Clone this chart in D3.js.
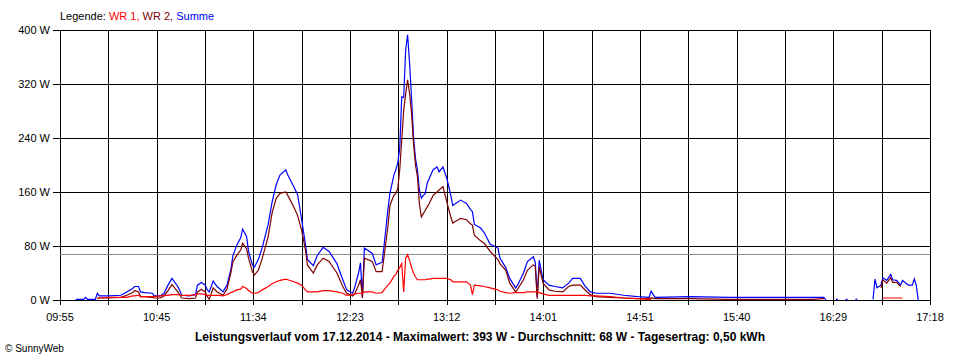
<!DOCTYPE html>
<html><head><meta charset="utf-8">
<script src="https://cdn.jsdelivr.net/npm/d3@7"></script>
<style>
html,body{margin:0;padding:0;background:#fff;}
svg{display:block;font-family:"Liberation Sans",Arial,sans-serif;}
</style></head>
<body><svg id="c" width="960" height="360"></svg>
<script>
const n = null;
const times = ["10:03","10:07","10:08","10:09","10:13","10:14","10:15","10:20","10:26","10:29","10:32","10:33","10:35","10:36","10:38","10:42","10:43","10:46","10:48","10:50",
"10:52","10:55","10:57","11:01","11:04","11:05","11:07","11:09","11:10","11:11","11:13","11:15","11:18","11:20","11:22","11:23","11:25","11:27","11:28","11:30",
"11:31","11:33","11:34","11:36","11:38","11:41","11:43","11:45","11:47","11:50","11:51","11:54","11:56","11:58","12:00","12:01","12:04","12:06","12:09","12:12",
"12:16","12:19","12:21","12:24","12:25","12:27","12:28","12:29","12:30","12:34","12:36","12:39","12:40","12:42","12:43","12:45","12:46","12:47","12:48","12:49",
"12:50","12:51","12:52","12:53","12:54","12:55","12:56","12:57","12:58","12:59","13:00","13:01","13:02","13:03","13:05","13:07","13:08","13:10","13:12","13:14",
"13:15","13:19","13:22","13:24","13:25","13:26","13:29","13:31","13:34","13:38","13:39","13:42","13:44","13:47","13:48","13:51","13:53","13:56","13:57","13:58",
"13:59","14:01","14:04","14:07","14:11","14:14","14:16","14:20","14:22","14:25","14:28","14:35","14:42","14:49","14:55","14:56","14:58","15:16","15:36","16:02",
"16:18","16:24","16:25","16:26","16:30","16:31","16:32","16:35","16:36","16:37","16:40","16:41","16:42","16:49","16:50","16:51","16:53","16:54","16:56","16:58",
"16:59","17:01","17:03","17:04","17:07","17:09","17:10","17:11","17:12"];
const wr1 = [n,n,n,n,n,2,3,4,4,4,6,6,7,5,5,5,5,6,7,7,
8,8,7,7,8,9,9,8,7,7,7,7,6,8,11,12,15,16,20,17,
14,10,10,11,15,20,24,27,29,31,30,27,25,22,15,12,12,12,14,14,
12,10,7,8,9,10,10,10,12,12,10,11,15,22,25,35,38,44,48,54,
12,62,67,59,48,40,34,30,30,30,30,30,31,31,32,32,32,32,32,30,
27,27,27,22,8,22,21,20,18,15,13,11,10,11,11,11,12,12,12,12,
11,9,7,7,7,7,7,7,7,6,6,5,3,2,1,1,n,n,n,n,
n,n,n,n,n,n,n,n,n,n,n,n,n,n,n,n,n,3,3,3,
3,3,3,3,n,n,n,n,n];
const wr2 = [n,n,n,n,n,3,3,3,4,7,11,14,12,5,5,4,3,3,6,14,
23,12,3,2,3,12,16,12,5,1,18,12,7,16,40,56,66,74,84,76,
62,42,37,44,62,94,129,150,158,160,155,138,125,104,74,52,40,52,62,57,
40,20,10,6,9,22,30,3,62,57,42,42,64,110,140,155,158,165,193,237,
281,305,326,306,277,232,200,183,143,123,128,133,138,143,155,160,163,168,145,123,
114,121,119,113,111,96,88,84,72,60,54,44,25,12,16,30,44,52,50,2,
49,25,15,13,12,20,22,22,16,8,5,4,3,2,2,3,2,2,1,1,
1,2,n,n,n,n,n,n,n,n,n,n,n,n,n,n,18,30,25,33,
26,26,20,n,n,n,n,n,n];
const summe = [1,1,4,1,1,10,6,6,7,12,17,20,20,12,11,10,6,6,10,22,
32,20,7,6,8,22,26,22,15,12,28,20,12,22,45,65,81,92,105,94,
72,52,49,60,78,112,145,170,185,193,185,168,156,120,82,60,51,66,78,72,
54,30,15,10,18,40,55,5,77,69,52,56,80,135,158,185,193,203,225,301,
300,370,393,351,300,242,210,193,163,151,155,158,173,180,193,197,190,197,180,155,
140,148,143,134,131,112,107,100,83,77,62,48,32,18,22,40,57,64,56,5,
59,30,22,20,18,25,32,32,22,12,10,10,7,5,4,13,4,5,4,4,
4,4,0,n,1,1,n,1,1,n,1,1,n,1,31,18,22,33,29,38,
30,29,22,29,22,22,31,22,0];
const yTicks = [0,80,160,240,320,400];
const xTickLabels = ["09:55","10:45","11:34","12:23","13:12","14:01","14:51","15:40","16:29","17:18"];
const average = 68;
const title = "Leistungsverlauf vom 17.12.2014 - Maximalwert: 393 W - Durchschnitt: 68 W - Tagesertrag: 0,50 kWh";

const toMin = s => { const [h,m] = s.split(":").map(Number); return h*60+m; };
const L = 60, R = 930, T = 30, B = 300;
const tStart = toMin(xTickLabels[0]), tEnd = toMin(xTickLabels[xTickLabels.length-1]);
const x = d3.scaleLinear().domain([tStart, tEnd]).range([L, R]);
const y = d3.scaleLinear().domain([0, 400]).range([B, T]);
const svg = d3.select("#c");

const nDiv = (xTickLabels.length - 1) * 2;
const gridPos = d3.range(nDiv + 1).map(i => tStart + i * (tEnd - tStart) / nDiv);
const g = svg.append("g").attr("shape-rendering","crispEdges");
g.selectAll("line.v").data(gridPos).join("line")
  .attr("x1", d => Math.round(x(d)) + 0.5).attr("x2", d => Math.round(x(d)) + 0.5)
  .attr("y1", T).attr("y2", B + 5).attr("stroke","#000");
g.selectAll("line.h").data(yTicks).join("line")
  .attr("x1", L - 7).attr("x2", R + 0.5)
  .attr("y1", d => Math.round(y(d)) + 0.5).attr("y2", d => Math.round(y(d)) + 0.5).attr("stroke","#000");
g.append("line").attr("x1", L).attr("x2", R)
  .attr("y1", Math.round(y(average)) + 0.5).attr("y2", Math.round(y(average)) + 0.5)
  .attr("stroke","#8c8c8c");

svg.selectAll("text.yl").data(yTicks).join("text")
  .attr("x", 50).attr("y", d => y(d) + 4).attr("text-anchor","end")
  .attr("font-size", 11).text(d => d + " W");
svg.selectAll("text.xl").data(xTickLabels).join("text")
  .attr("x", (d,i) => x(gridPos[i*2])).attr("y", 321).attr("text-anchor","middle")
  .attr("font-size", 11).text(d => d);

const pts = vals => times.map((t,i) => ({t: toMin(t), v: vals[i]}));
const line = d3.line().defined(d => d.v !== null).x(d => x(d.t)).y(d => y(d.v));
[[summe,"#0000ff"],[wr2,"#800000"],[wr1,"#ff0000"]].forEach(([vals,col]) => {
  svg.append("path").datum(pts(vals)).attr("d", line)
    .attr("fill","none").attr("stroke", col).attr("stroke-width", 1.2).attr("stroke-linejoin","miter");
});

const leg = svg.append("text").attr("x", 60).attr("y", 20).attr("font-size", 11);
leg.append("tspan").attr("fill","#000").text("Legende: ");
leg.append("tspan").attr("fill","#ff0000").text("WR 1, ");
leg.append("tspan").attr("fill","#800000").text("WR 2, ");
leg.append("tspan").attr("fill","#0000ff").text("Summe");

svg.append("text").attr("x", 480).attr("y", 341).attr("text-anchor","middle")
  .attr("font-size", 12).attr("font-weight","bold").text(title);
svg.append("text").attr("x", 5).attr("y", 352).attr("font-size", 10).text("\u00A9 SunnyWeb");
</script></body></html>
